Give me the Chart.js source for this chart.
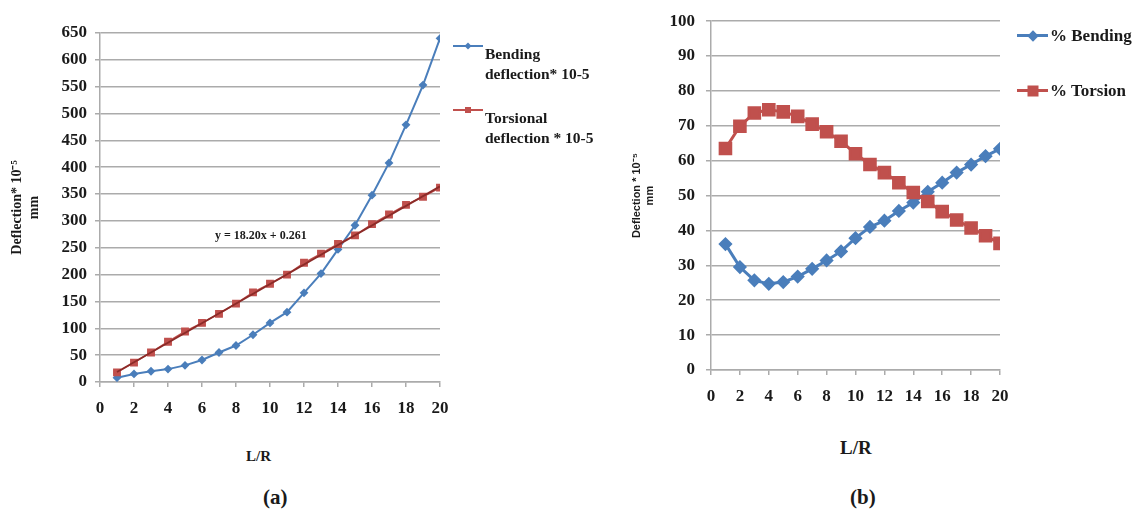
<!DOCTYPE html>
<html>
<head>
<meta charset="utf-8">
<script src="https://cdn.jsdelivr.net/npm/chart.js@4.4.0/dist/chart.umd.min.js"></script>
<style>
  body { margin: 0; background: #fff; width: 1137px; height: 514px; position: relative; overflow: hidden;
         font-family: "Liberation Serif", "Times New Roman", serif; color: #1a1a1a; }
  .box { position: absolute; }
  #box-a { left: 0; top: 0; width: 460px; height: 430px; }
  #box-b { left: 600px; top: 0; width: 420px; height: 430px; }
  .txt { position: absolute; font-weight: bold; white-space: nowrap; line-height: 1; }
  .leg { position: absolute; display: flex; align-items: center; }
  .leg .ln { position: relative; }
  .leg .mk { position: absolute; left: 50%; top: 50%; }
</style>
</head>
<body>
<div class="box" id="box-a"><canvas id="chart-a"></canvas></div>
<div class="box" id="box-b"><canvas id="chart-b"></canvas></div>

<!-- legend (a) -->
<div class="leg" style="left:453px; top:45px;">
  <div class="ln" style="width:30px; height:2px; background:#4A7EBB;">
    <div class="mk" style="width:5px; height:5px; background:#4A7EBB; transform:translate(-50%,-50%) rotate(45deg);"></div>
  </div>
</div>
<div class="txt" style="left:485px; top:44px; font-size:15.5px; line-height:20px;">Bending<br>deflection* 10-5</div>
<div class="leg" style="left:453px; top:109px;">
  <div class="ln" style="width:30px; height:2px; background:#C0504D;">
    <div class="mk" style="width:6px; height:6px; background:#C0504D; transform:translate(-50%,-50%);"></div>
  </div>
</div>
<div class="txt" style="left:485px; top:108px; font-size:15.5px; line-height:20px;">Torsional<br>deflection * 10-5</div>

<!-- legend (b) -->
<div class="leg" style="left:1017px; top:34px;">
  <div class="ln" style="width:31px; height:3px; background:#4A7EBB;">
    <div class="mk" style="width:8px; height:8px; background:#4A7EBB; transform:translate(-50%,-50%) rotate(45deg);"></div>
  </div>
</div>
<div class="txt" style="left:1050px; top:27px; font-size:17px;">% Bending</div>
<div class="leg" style="left:1017px; top:89px;">
  <div class="ln" style="width:31px; height:3px; background:#C0504D;">
    <div class="mk" style="width:11px; height:11px; background:#C0504D; transform:translate(-50%,-50%);"></div>
  </div>
</div>
<div class="txt" style="left:1050px; top:82px; font-size:17px;">% Torsion</div>

<div class="txt" style="left:215px; top:229px; font-size:12px;">y = 18.20x + 0.261</div>
<div class="txt" style="left:246px; top:449px; font-size:15px;">L/R</div>
<div class="txt" style="left:840px; top:438px; font-size:19px;">L/R</div>
<div class="txt" style="left:263px; top:487px; font-size:21px;">(a)</div>
<div class="txt" style="left:850px; top:487px; font-size:21px;">(b)</div>

<script>
// L/R ratio (shared x values)
const lr = [1, 2, 3, 4, 5, 6, 7, 8, 9, 10, 11, 12, 13, 14, 15, 16, 17, 18, 19, 20];
const xTicks = [0, 2, 4, 6, 8, 10, 12, 14, 16, 18, 20];

// (a) deflection * 10^-5 mm
const bendingA = [8, 15, 20, 24, 31, 41, 55, 68, 88, 110, 130, 166, 202, 247, 292, 348, 408, 479, 553, 640];
const torsionalA = [18, 36, 55, 75, 94, 110, 127, 146, 167, 183, 200, 222, 239, 257, 273, 294, 312, 330, 345, 362];
const trendX = [1, 20];
const trendY = [18.5, 364.3];
const yTicksA = [0, 50, 100, 150, 200, 250, 300, 350, 400, 450, 500, 550, 600, 650];

// (b) percentage share
const bendingB = [36.1, 29.5, 25.7, 24.7, 25.2, 26.8, 29, 31.4, 34, 37.8, 41, 42.8, 45.6, 48, 51.1, 53.7, 56.6, 58.9, 61.3, 63.4];
const torsionB = [63.5, 69.9, 73.7, 74.6, 74, 72.7, 70.5, 68.3, 65.6, 62, 58.9, 56.6, 53.7, 50.9, 48.3, 45.4, 43, 40.7, 38.5, 36.3];
const yTicksB = [0, 10, 20, 30, 40, 50, 60, 70, 80, 90, 100];

const BLUE = '#4A7EBB';
const RED = '#C0504D';
const GRID = '#ABABAB';
const SERIF = '"Liberation Serif", "Times New Roman", serif';

const pts = (xs, ys) => xs.map((x, i) => ({ x: x, y: ys[i] }));
const setTicks = (list) => (scale) => { scale.ticks = list.map(v => ({ value: v })); };

// options shared by both panels
const makeOptions = (cfg) => ({
    responsive: true,
    maintainAspectRatio: false,
    animation: false,
    layout: { padding: { top: cfg.top, right: cfg.right, left: 0, bottom: 0 } },
    plugins: { legend: { display: false }, tooltip: { enabled: false } },
    scales: {
        x: {
            type: 'linear',
            min: 0,
            max: 20,
            afterBuildTicks: setTicks(xTicks),
            afterFit: (scale) => { scale.height = cfg.xHeight; },
            grid: { drawOnChartArea: false, drawTicks: true, tickLength: 5, color: GRID, lineWidth: 1.5 },
            border: { color: GRID, width: 1.5 },
            ticks: { color: '#1a1a1a', padding: cfg.xPad, maxRotation: 0, autoSkip: false,
                     font: { family: SERIF, size: 17, weight: 'bold' } }
        },
        y: {
            min: 0,
            max: cfg.yMax,
            afterBuildTicks: setTicks(cfg.yTicks),
            afterFit: (scale) => { scale.width = cfg.yWidth; },
            grid: { color: GRID, lineWidth: 1.5, tickLength: 5 },
            border: { color: GRID, width: 1.5 },
            ticks: { color: '#1a1a1a', padding: cfg.yPad, autoSkip: false,
                     font: { family: SERIF, size: 17, weight: 'bold' } },
            title: {
                display: true,
                text: cfg.yTitle,
                color: '#1a1a1a',
                padding: { top: cfg.titlePad, bottom: 0 },
                font: cfg.titleFont
            }
        }
    }
});

new Chart(document.getElementById('chart-a'), {
    type: 'line',
    data: {
        datasets: [{
            label: 'Trendline',
            data: pts(trendX, trendY),
            borderColor: '#8C2B28',
            borderWidth: 1.8,
            pointRadius: 0,
            order: 0
        }, {
            label: 'Torsional deflection * 10-5',
            data: pts(lr, torsionalA),
            borderColor: RED,
            backgroundColor: RED,
            borderWidth: 1.5,
            pointStyle: 'rect',
            pointRadius: 4.5,
            order: 1
        }, {
            label: 'Bending deflection* 10-5',
            data: pts(lr, bendingA),
            borderColor: BLUE,
            backgroundColor: BLUE,
            borderWidth: 2,
            pointStyle: 'rectRot',
            pointRadius: 3,
            order: 2
        }]
    },
    options: makeOptions({
        top: 33, right: 20, xHeight: 48, xPad: 11, yWidth: 100, yPad: 8, yMax: 650, yTicks: yTicksA,
        yTitle: ['Deflection* 10\u207B\u2075', 'mm'], titlePad: 9,
        titleFont: { family: SERIF, size: 14, weight: 'bold' }
    })
});

new Chart(document.getElementById('chart-b'), {
    type: 'line',
    data: {
        datasets: [{
            label: '% Torsion',
            data: pts(lr, torsionB),
            borderColor: RED,
            backgroundColor: RED,
            borderWidth: 3,
            pointStyle: 'rect',
            pointRadius: 7.5,
            order: 0
        }, {
            label: '% Bending',
            data: pts(lr, bendingB),
            borderColor: BLUE,
            backgroundColor: BLUE,
            borderWidth: 3,
            pointStyle: 'rectRot',
            pointRadius: 5,
            order: 1
        }]
    },
    options: makeOptions({
        top: 19, right: 20, xHeight: 60, xPad: 11, yWidth: 111, yPad: 11, yMax: 100, yTicks: yTicksB,
        yTitle: ['Deflection * 10\u207B\u2075', 'mm'], titlePad: 30,
        titleFont: { family: '"Liberation Sans", Arial, sans-serif', size: 11, weight: 'bold' }
    })
});
</script>
</body>
</html>
